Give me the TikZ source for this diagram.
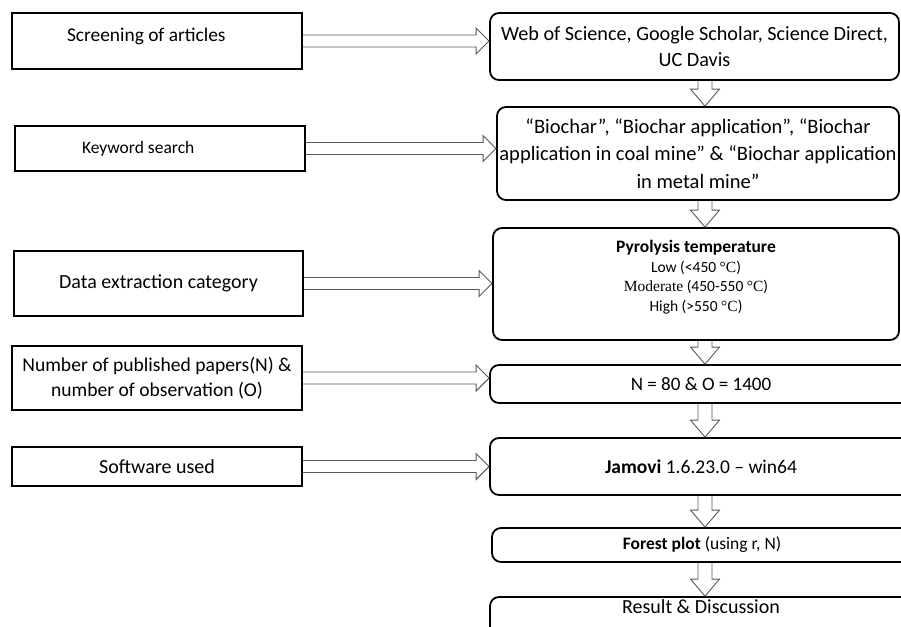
\documentclass[tikz,border=0pt]{standalone}
\usepackage{fontspec}
\setmainfont{Carlito}
\newfontfamily\tnr{Liberation Serif}
\usetikzlibrary{calc,positioning}

\newcommand{\sidearr}[2]{%
  \draw[hollow] let \p1=(#1.east), \p2=(#2.west) in
    (\x1,\y1+6pt) -- (\x2-13pt,\y1+6pt) -- (\x2-13pt,\y1+13pt) -- (\x2,\y1)
    -- (\x2-13pt,\y1-13pt) -- (\x2-13pt,\y1-6pt) -- (\x1,\y1-6pt);}
\newcommand{\downarr}[2]{%
  \draw[hollow] let \p1=(#1.south), \p2=(#2.north), \p3=(col) in
    (\x3-7pt,\y1) -- (\x3-7pt,\y2+17pt) -- (\x3-14.5pt,\y2+17pt) -- (\x3,\y2)
    -- (\x3+14.5pt,\y2+17pt) -- (\x3+7pt,\y2+17pt) -- (\x3+7pt,\y1);}

\begin{document}
\begin{tikzpicture}[x=1pt,y=-1pt,
   lbox/.style={draw,line width=1.8pt,rectangle,inner sep=0pt,align=center},
   rbox/.style={draw,line width=1.8pt,rectangle,rounded corners=9pt,inner sep=0pt,align=center},
   hollow/.style={draw=black!65,line width=0.9pt,line join=miter}]
   \useasboundingbox (0,0) rectangle (901,626);
   \clip (0,0) rectangle (901,626);
   \coordinate (col) at (705,0);

   % left column
   \node[lbox,minimum width=290pt,minimum height=56pt,text width=180pt,inner xsep=55pt,align=flush left,
         text depth=12pt,font=\fontsize{19.4}{22}\selectfont] (scr) at (157,41) {Screening of articles};
   \node[lbox,minimum width=290pt,minimum height=45pt,text width=156pt,inner xsep=67pt,align=flush left,
         font=\fontsize{17.5}{20}\selectfont] (key) at (160,148.5) {Keyword search};
   \node[lbox,minimum width=289pt,minimum height=65pt,font=\fontsize{20}{24}\selectfont] (cat) at (158.5,283.5) {Data extraction category};
   \node[lbox,minimum width=290pt,minimum height=64pt,font=\fontsize{19.6}{25}\selectfont] (nop) at (157,378)
        {Number of published papers(N) \&\\ number of observation (O)};
   \node[lbox,minimum width=290pt,minimum height=39pt,font=\fontsize{20}{24}\selectfont] (sw) at (157,466.5) {Software used};

   % right column
   \node[rbox,minimum width=409pt,minimum height=67pt,font=\fontsize{20.2}{26}\selectfont] (src) at (694.5,46.5)
        {Web of Science, Google Scholar, Science Direct,\\ UC Davis};
   \node[rbox,minimum width=402pt,minimum height=93pt,font=\fontsize{20.5}{27.5}\selectfont] (kw) at (698,153.5)
        {“Biochar”, “Biochar application”, “Biochar\\ application in coal mine” \& “Biochar application\\ in metal mine”};
   \node[rbox,minimum width=406pt,minimum height=112pt,text depth=16pt,font=\fontsize{15.5}{19.5}\selectfont] (pyr) at (696,284)
        {{\fontsize{17.5}{20}\selectfont\bfseries Pyrolysis temperature}\\ Low (<450 {\tnr °C})\\
         {\tnr Moderate} (450-550 {\tnr °C})\\ High (>550 {\tnr °C})};
   \node[rbox,minimum width=422pt,minimum height=38pt,font=\fontsize{19}{23}\selectfont] (no) at (701,384) {N = 80 \& O = 1400};
   \node[rbox,minimum width=422pt,minimum height=57pt,font=\fontsize{19.5}{23}\selectfont] (jam) at (701,466.5)
        {\textbf{Jamovi} 1.6.23.0 – win64};
   \node[rbox,minimum width=420pt,minimum height=34pt,font=\fontsize{17.5}{21}\selectfont] (fp) at (702,545)
        {\textbf{Forest plot} (using r, N)};
   \node[rbox,minimum width=422pt,minimum height=63pt,text height=14pt,text depth=45pt,font=\fontsize{20}{24}\selectfont] (res) at (701,628.5)
        {Result \& Discussion};

   \sidearr{scr}{src}
   \sidearr{key}{kw}
   \sidearr{cat}{pyr}
   \sidearr{nop}{no}
   \sidearr{sw}{jam}

   \downarr{src}{kw}
   \downarr{kw}{pyr}
   \downarr{pyr}{no}
   \downarr{no}{jam}
   \downarr{jam}{fp}
   \downarr{fp}{res}
\end{tikzpicture}
\end{document}
